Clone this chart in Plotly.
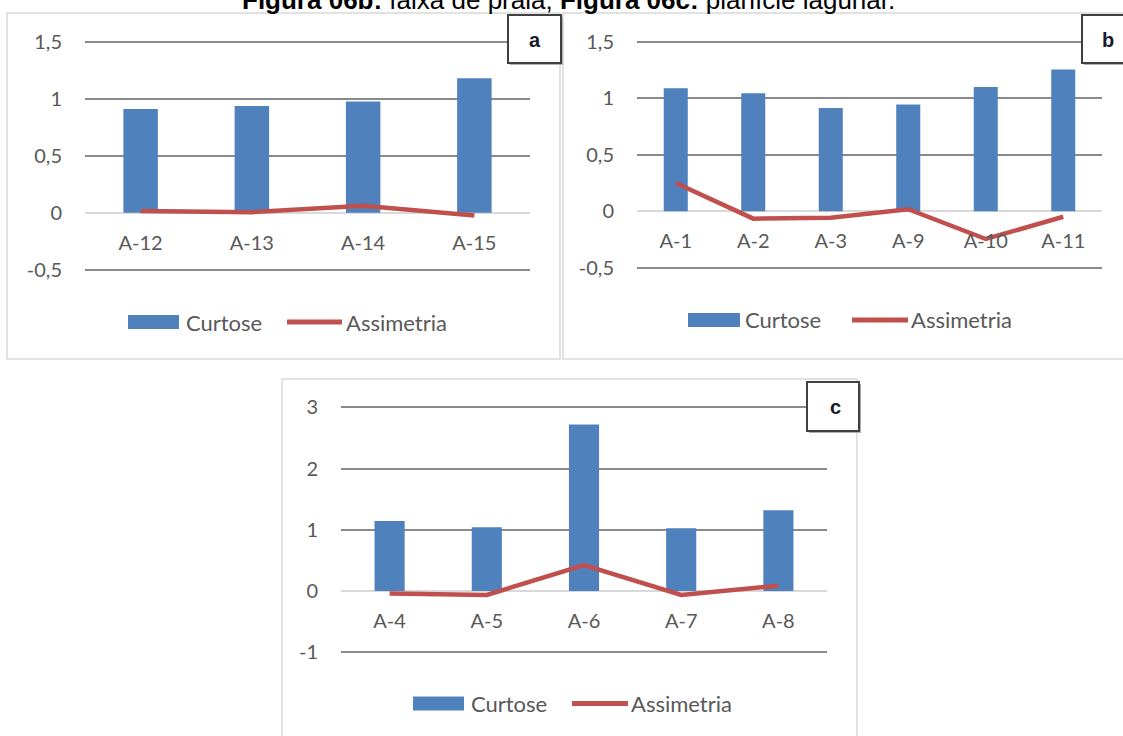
import plotly.graph_objects as go

W, H = 1123, 736

# ---------------- data ----------------
cats_a = ["A-12", "A-13", "A-14", "A-15"]
curtose_a = [0.91, 0.935, 0.975, 1.18]
assimetria_a = [0.015, 0.005, 0.06, -0.025]

cats_b = ["A-1", "A-2", "A-3", "A-9", "A-10", "A-11"]
curtose_b = [1.09, 1.045, 0.915, 0.945, 1.10, 1.255]
assimetria_b = [0.25, -0.065, -0.057, 0.018, -0.245, -0.048]

cats_c = ["A-4", "A-5", "A-6", "A-7", "A-8"]
curtose_c = [1.145, 1.04, 2.72, 1.025, 1.32]
assimetria_c = [-0.04, -0.065, 0.425, -0.065, 0.087]

yticks_ab = [-0.5, 0, 0.5, 1, 1.5]
yticktext_ab = ["-0,5", "0", "0,5", "1", "1,5"]
yticks_c = [-1, 0, 1, 2, 3]
yticktext_c = ["-1", "0", "1", "2", "3"]

series_names = ["Curtose", "Assimetria"]
panel_letters = ["a", "b", "c"]
title_html = "<b>Figura 06b:</b> faixa de praia; <b>Figura 06c:</b> planície lagunar."

BAR_COLOR = "#4F81BD"
LINE_COLOR = "#C0504D"
TXT = "#595959"
GRID = "#8a8a8a"
FRAME = "#d9d9d9"
TICKFONT = dict(family="Lato", size=20, color=TXT)


def X(px):
    return px / W


def Y(py):
    return 1 - py / H


fig = go.Figure()

panels = [
    dict(cats=cats_a, curt=curtose_a, assim=assimetria_a, x0=85, x1=530, zero=212.7, unit=114.0,
         rng=(-0.52, 1.52), tv=yticks_ab, tt=yticktext_ab),
    dict(cats=cats_b, curt=curtose_b, assim=assimetria_b, x0=637, x1=1102, zero=211.3, unit=113.0,
         rng=(-0.52, 1.52), tv=yticks_ab, tt=yticktext_ab),
    dict(cats=cats_c, curt=curtose_c, assim=assimetria_c, x0=341, x1=827, zero=591.0, unit=61.2,
         rng=(-1.04, 3.04), tv=yticks_c, tt=yticktext_c),
]

layout_axes = {}
for i, p in enumerate(panels, start=1):
    xa = "x" if i == 1 else f"x{i}"
    ya = "y" if i == 1 else f"y{i}"
    fig.add_trace(go.Bar(x=p["cats"], y=p["curt"], name=series_names[0], marker_color=BAR_COLOR,
                         marker_line_width=0, xaxis=xa, yaxis=ya, showlegend=False))
    fig.add_trace(go.Scatter(x=p["cats"], y=p["assim"], name=series_names[1], mode="lines",
                             line=dict(color=LINE_COLOR, width=4.5), xaxis=xa, yaxis=ya,
                             showlegend=False))
    top_px = p["zero"] - p["rng"][1] * p["unit"]
    bot_px = p["zero"] - p["rng"][0] * p["unit"]
    xkey = "xaxis" if i == 1 else f"xaxis{i}"
    ykey = "yaxis" if i == 1 else f"yaxis{i}"
    layout_axes[xkey] = dict(
        domain=[X(p["x0"]), X(p["x1"])], anchor="free", position=Y(p["zero"]),
        range=[-0.5, len(p["cats"]) - 0.5], showgrid=False, zeroline=False, showline=False,
        ticks="", tickfont=TICKFONT, ticklabelstandoff=16, fixedrange=True, automargin=False,
    )
    layout_axes[ykey] = dict(
        domain=[Y(bot_px), Y(top_px)], anchor=xa, range=list(p["rng"]),
        tickvals=p["tv"], ticktext=p["tt"], showgrid=True, gridcolor=GRID, gridwidth=1.5,
        zeroline=True, zerolinecolor=FRAME, zerolinewidth=2, showline=False, ticks="",
        tickfont=TICKFONT, ticklabelstandoff=22, fixedrange=True, automargin=False,
    )

shapes = []
annotations = []

# panel frames
for (x0, y0, x1, y1) in [(7, 13, 560, 359), (563, 13, 1135, 359), (282, 379, 857, 760)]:
    shapes.append(dict(type="rect", xref="paper", yref="paper", x0=X(x0), x1=X(x1), y0=Y(y1), y1=Y(y0),
                       line=dict(color=FRAME, width=1.5), fillcolor="rgba(0,0,0,0)", layer="below"))

# letter boxes
boxes = [(508, 15, 561, 63, 535, 40), (1082, 15, 1140, 63, 1108, 40), (807, 382, 859, 431, 835, 407)]
for letter, (x0, y0, x1, y1, tx, ty) in zip(panel_letters, boxes):
    shapes.append(dict(type="rect", xref="paper", yref="paper", x0=X(x0 + 2), x1=X(x1 + 2),
                       y0=Y(y1 + 2), y1=Y(y0 + 2), line=dict(width=0), fillcolor="#b0b0b0"))
    shapes.append(dict(type="rect", xref="paper", yref="paper", x0=X(x0), x1=X(x1), y0=Y(y1), y1=Y(y0),
                       line=dict(color="#404040", width=2), fillcolor="white"))
    annotations.append(dict(text=f"<b>{letter}</b>", xref="paper", yref="paper", x=X(tx), y=Y(ty),
                            xanchor="center", yanchor="middle", showarrow=False,
                            font=dict(family="Liberation Sans", size=20, color="#1a1a2e")))

# legends (manual, Excel-like)
legends = [
    dict(rx0=128, rx1=179, cy=322, lx0=287, lx1=342, t1=184, t2=344),
    dict(rx0=688, rx1=740, cy=320, lx0=852, lx1=908, t1=743, t2=909),
    dict(rx0=413, rx1=464, cy=703.5, lx0=572, lx1=628, t1=469, t2=629),
]
for lg in legends:
    shapes.append(dict(type="rect", xref="paper", yref="paper", x0=X(lg["rx0"]), x1=X(lg["rx1"]),
                       y0=Y(lg["cy"] + 7), y1=Y(lg["cy"] - 7), line=dict(width=0), fillcolor=BAR_COLOR))
    shapes.append(dict(type="line", xref="paper", yref="paper", x0=X(lg["lx0"]), x1=X(lg["lx1"]),
                       y0=Y(lg["cy"]), y1=Y(lg["cy"]), line=dict(color=LINE_COLOR, width=5)))
    for name, tx in zip(series_names, [lg["t1"], lg["t2"]]):
        annotations.append(dict(text=name, xref="paper", yref="paper", x=X(tx), y=Y(lg["cy"]),
                                xanchor="left", yanchor="middle", showarrow=False,
                                font=dict(family="Lato", size=22, color=TXT)))

# caption at the very top (partly cut by the page edge, as in the reference)
annotations.append(dict(text=title_html, xref="paper", yref="paper", x=X(240), y=Y(17.5),
                        xanchor="left", yanchor="bottom", showarrow=False,
                        font=dict(family="Liberation Sans", size=26, color="black")))

fig.update_layout(
    width=W, height=H, autosize=False,
    margin=dict(l=0, r=0, t=0, b=0, pad=0, autoexpand=False),
    paper_bgcolor="white", plot_bgcolor="white",
    bargap=0.69, showlegend=False,
    shapes=shapes, annotations=annotations,
    **layout_axes,
)

fig.write_html("out.html", config={"displayModeBar": False},
               post_script="document.body.style.margin='0';")
